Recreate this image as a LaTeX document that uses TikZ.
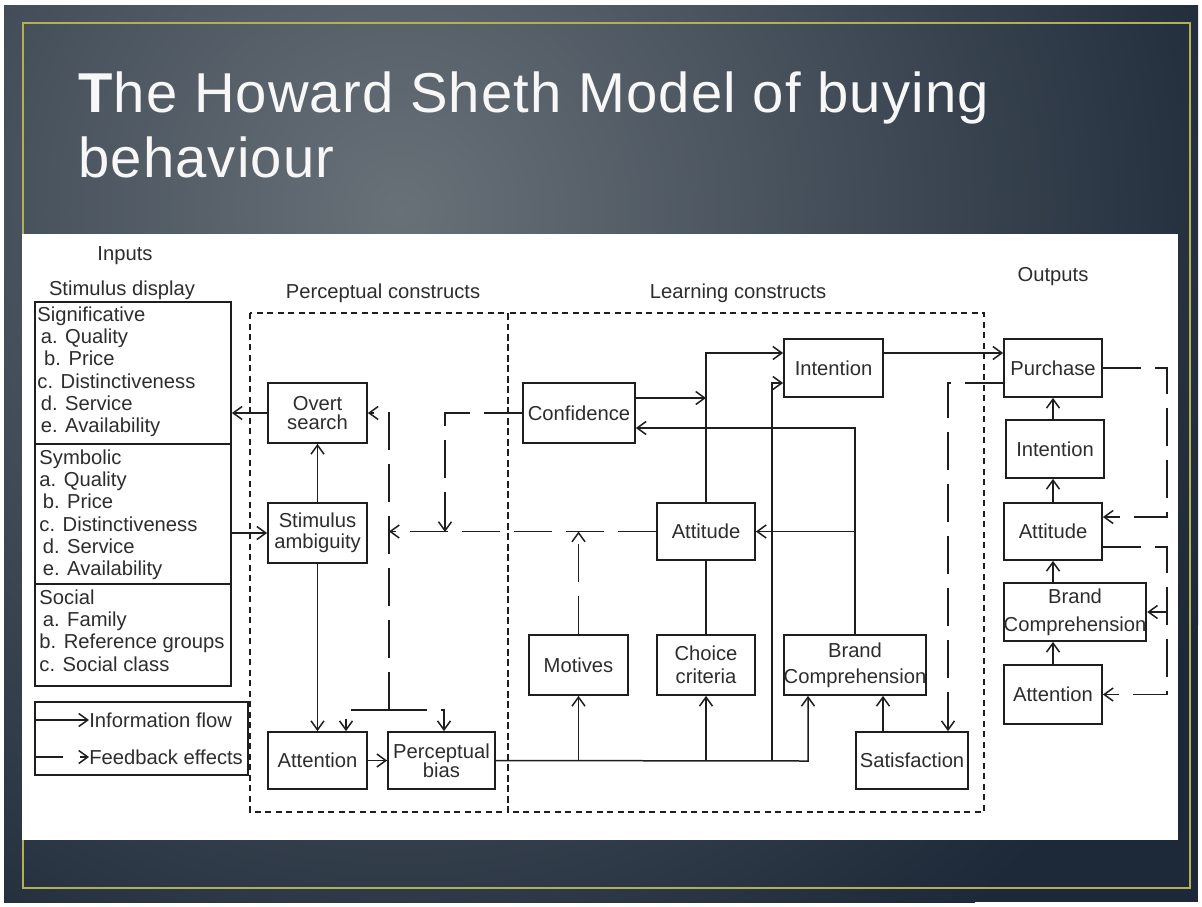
\documentclass[tikz,border=0pt]{standalone}
\usepackage{fontspec}
\setmainfont{Liberation Sans}
\newfontfamily\slidefont[LetterSpace=2]{Liberation Sans}
\usetikzlibrary{arrows.meta}
\definecolor{slatedark}{RGB}{29,40,56}
\definecolor{slatelight}{RGB}{104,113,120}
\definecolor{framegold}{RGB}{178,176,86}
\definecolor{inkline}{RGB}{30,30,30}
\definecolor{inktext}{RGB}{45,45,45}
\tikzset{
  blk/.style={draw=inkline, line width=0.035cm, fill=white, inner sep=0pt, align=center, text=inktext, font=\fontsize{11.5}{12}\selectfont},
  lbl/.style={inner sep=0pt, text=inktext, font=\fontsize{11.5}{12}\selectfont},
  listtxt/.style={lbl, align=left, anchor=north west, font=\fontsize{11.5}{12.7}\selectfont},
  flow/.style={draw=inkline, line width=0.03cm, -{Straight Barb[length=0.18cm,width=0.26cm]}},
  feedback/.style={flow, dash pattern=on 0.76cm off 0.28cm},
  link/.style={draw=inkline, line width=0.03cm},
  construct/.style={draw=inkline, line width=0.03cm, dash pattern=on 0.12cm off 0.09cm},
  slidetitle/.style={inner sep=0pt, anchor=base west, text=white!94!gray, font=\slidefont\fontsize{32}{36}\selectfont},
}
\begin{document}
\begin{tikzpicture}[x=0.02cm,y=-0.02cm]
            \useasboundingbox (0,0) rectangle (1202,906);

            % Slide background
            \fill[white] (0,0) rectangle (1202,906);
            \fill[slatedark] (4,5) rectangle (1198,902);
            \begin{scope}
            \clip (4,5) rectangle (1198,902);
            \shade[inner color=slatelight, outer color=slatedark] (400,210) circle (900);
            \end{scope}
            \draw[framegold, line width=0.04cm] (23,23) rectangle (1190,888);
            \fill[white] (22,234) rectangle (1178,840);

            % Title
            \node[slidetitle] (ttl1) at (78,112) {\textbf{T}he Howard Sheth Model of buying};
            \node[slidetitle] (ttl2) at (78,177) {behaviour};

            % Headings
            \node[lbl] (hinputs) at (125,256) {Inputs};
            \node[lbl] (hstim) at (122,290) {Stimulus display};
            \node[lbl] (hperc) at (383,293) {Perceptual constructs};
            \node[lbl] (hlearn) at (738,293) {Learning constructs};
            \node[lbl] (houts) at (1053,277) {Outputs};

            % Construct regions
            \draw[construct] (250,313) rectangle (508,812);
            \draw[construct] (508,313) rectangle (984,812);

            % Stimulus display boxes
            \node[blk, minimum width=3.92cm, minimum height=2.84cm] (sig) at (133,373) {};
            \node[blk, minimum width=3.92cm, minimum height=2.80cm] (sym) at (133,514) {};
            \node[blk, minimum width=3.92cm, minimum height=2.04cm] (soc) at (133,635) {};
            \node[listtxt] (sigtxt) at ([xshift=0.06cm,yshift=-0.1cm]sig.north west)
              {Significative\\ \,a. Quality\\ \,\,b. Price\\ c. Distinctiveness\\ \,d. Service\\ \,e. Availability};
            \node[listtxt] (symtxt) at ([xshift=0.1cm,yshift=-0.12cm]sym.north west)
              {Symbolic\\ a. Quality\\ \,b. Price\\ c. Distinctiveness\\ \,d. Service\\ \,e. Availability};
            \node[listtxt] (soctxt) at ([xshift=0.1cm,yshift=-0.12cm]soc.north west)
              {Social\\ \,a. Family\\ b. Reference groups\\ c. Social class};

            % Legend
            \node[blk, minimum width=4.26cm, minimum height=1.46cm] (legend) at (141.5,738.5) {};
            \coordinate (lgflowS) at (35,720);
            \node[lbl, anchor=west] (lgflow) at (89,720) {Information flow};
            \draw[flow] (lgflowS) -- (lgflow.west);
            \coordinate (lgfbS) at (35,757);
            \node[lbl, anchor=west] (lgfb) at (89,757) {Feedback effects};
            \draw[feedback, dash pattern=on 0.56cm off 0.34cm] (lgfbS) -- (lgfb.west);

            % Perceptual constructs
            \node[blk, minimum width=1.98cm, minimum height=1.20cm] (overt) at (317.5,413) {Overt\\[-1pt]search};
            \node[blk, minimum width=1.98cm, minimum height=1.20cm] (stim) at (317.5,533) {Stimulus\\ambiguity};
            \node[blk, minimum width=1.98cm, minimum height=1.14cm] (attP) at (317.5,760.5) {Attention};
            \node[blk, minimum width=2.14cm, minimum height=1.14cm] (pbias) at (441.5,760.5) {Perceptual\\[-1pt]bias};

            % Learning constructs
            \node[blk, minimum width=2.24cm, minimum height=1.20cm] (conf) at (579,413) {Confidence};
            \node[blk, minimum width=1.98cm, minimum height=1.16cm] (intL) at (833.5,368) {Intention};
            \node[blk, minimum width=1.96cm, minimum height=1.14cm] (attL) at (706,531.5) {Attitude};
            \node[blk, minimum width=1.98cm, minimum height=1.20cm] (motives) at (578.5,665) {Motives};
            \node[blk, minimum width=1.96cm, minimum height=1.20cm] (choice) at (706,665) {Choice\\[1pt]criteria};
            \node[blk, minimum width=2.84cm, minimum height=1.20cm] (bcL) at (855,665) {Brand\\[3pt]Comprehension};
            \node[blk, minimum width=2.24cm, minimum height=1.14cm] (satis) at (912,760.5) {Satisfaction};

            % Outputs
            \node[blk, minimum width=1.96cm, minimum height=1.16cm] (purch) at (1053,368) {Purchase};
            \node[blk, minimum width=1.96cm, minimum height=1.16cm] (intO) at (1055,449) {Intention};
            \node[blk, minimum width=1.96cm, minimum height=1.14cm] (attO) at (1053,531.5) {Attitude};
            \node[blk, minimum width=2.84cm, minimum height=1.16cm] (bcO) at (1075,612) {Brand\\[4pt]Comprehension};
            \node[blk, minimum width=1.96cm, minimum height=1.18cm] (attnO) at (1053,694.5) {Attention};

            % Junction points
            \coordinate (upInt) at (772,761);
            \coordinate (upBrand) at (808,761);
            \coordinate (fbJoin) at (389,710);
            \coordinate (fbDrop) at (445,532);
            \coordinate (rail) at (1167,612);
            \coordinate (satTop) at ([xshift=-0.58cm]satis.north);
            \coordinate (satFb) at ([xshift=0.72cm]satis.north);
            \coordinate (confOut) at ([yshift=0.3cm]conf.east);

            % Information flow
            \draw[flow] (overt.west) -- (overt.west -| sig.east);
            \draw[flow] (stim.west -| sym.east) -- (stim.west);
            \draw[flow] (stim.north) -- (overt.south);
            \draw[flow] (stim.south) -- (attP.north);
            \draw[flow] (attP.east) -- (pbias.west);
            \draw[flow] (pbias.east) -- (upBrand) -- (upBrand |- bcL.south);
            \draw[flow] (motives.south |- pbias.east) -- (motives.south);
            \draw[flow] (choice.south |- pbias.east) -- (choice.south);
            \draw[flow] (upInt) |- ([yshift=-0.3cm]intL.west);
            \draw[link] (choice.north) -- (attL.south);
            \draw[flow] (attL.north) |- ([yshift=0.3cm]intL.west);
            \draw[flow] (confOut) -- (confOut -| attL.north);
            \draw[flow] (bcL.north) |- ([yshift=-0.3cm]conf.east);
            \draw[flow] (attL.east -| bcL.north) -- (attL.east);
            \draw[flow] (satTop) -- (satTop |- bcL.south);
            \draw[flow] ([yshift=0.3cm]intL.east) -- ([yshift=0.3cm]purch.west);
            \draw[flow] (attnO.north) -- (attnO.north |- bcO.south);
            \draw[flow] (attO.south |- bcO.north) -- (attO.south);
            \draw[flow] (attO.north) -- (attO.north |- intO.south);
            \draw[flow] (purch.south |- intO.north) -- (purch.south);

            % Feedback effects
            \draw[feedback] (fbJoin) |- (overt.east);
            \draw[feedback] (fbJoin) -| ([xshift=0.57cm]attP.north);
            \draw[feedback] (fbJoin) -| ([xshift=0.05cm]pbias.north);
            \draw[feedback] (attL.west) -- (attL.west -| fbJoin);
            \draw[feedback] (conf.west) -| (fbDrop);
            \draw[feedback] (motives.north) -- (motives.north |- attL.west);
            \draw[feedback] ([yshift=-0.3cm]purch.west) -| (satFb);
            \draw[feedback] (purch.east) -- (purch.east -| rail) |- ([yshift=0.29cm]attO.east);
            \draw[feedback] ([yshift=-0.31cm]attO.east) -| (rail |- attnO.east) -- (attnO.east);
            \draw[feedback] (rail |- bcO.east) -- (bcO.east);
\end{tikzpicture}
\end{document}
